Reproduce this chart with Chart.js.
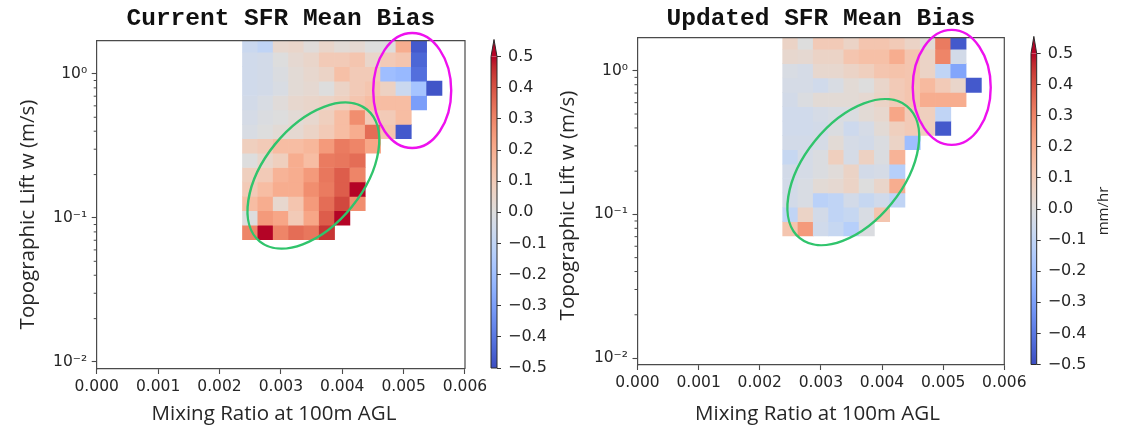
<!DOCTYPE html>
<html>
<head>
<meta charset="utf-8">
<script src="https://cdn.jsdelivr.net/npm/chart.js@4.4.1/dist/chart.umd.min.js"></script>
<style>
  html, body { margin: 0; padding: 0; background: #ffffff; }
  #wrap { position: relative; width: 1124px; height: 427px; overflow: hidden; }
  #wrap canvas { position: absolute; left: 0; top: 0; }
</style>
</head>
<body>
<div id="wrap">
  <canvas id="heatCurrent" width="1124" height="427"></canvas>
  <canvas id="barCurrent" width="1124" height="427"></canvas>
  <canvas id="heatUpdated" width="1124" height="427"></canvas>
  <canvas id="barUpdated" width="1124" height="427"></canvas>
</div>
<script>
// ---- bins and ticks ----
const mixingRatioCenters = [0.0025, 0.00275, 0.003, 0.00325, 0.0035, 0.00375, 0.004,
                            0.00425, 0.0045, 0.00475, 0.005, 0.00525, 0.0055];
const liftBinEdges = [0.0708, 0.0891, 0.1122, 0.1413, 0.1778, 0.2239, 0.2818, 0.3548,
                      0.4467, 0.5623, 0.7079, 0.8913, 1.1220, 1.4125, 1.7783];
const xTicks = [0, 0.001, 0.002, 0.003, 0.004, 0.005, 0.006];
const yMajorTicks = [0.01, 0.1, 1];
const yTickLabels = ['10\u207B\u00B2', '10\u207B\u00B9', '10\u2070'];
const yMinorMantissas = [2, 3, 4, 5, 6, 7, 8, 9];
const colorbarTicks = [-0.5, -0.4, -0.3, -0.2, -0.1, 0, 0.1, 0.2, 0.3, 0.4, 0.5];
const biasMin = -0.5, biasMax = 0.5;
const yMin = 0.00894, yMax = 1.70;

// ---- mean SFR bias (mm/hr); rows run from the lowest lift bin upward ----
const currentBias = [
  [ 0.30,  0.50,  0.30,  0.35,  0.33,  0.45,  null,  null,  null,  null,  null,  null,  null],
  [ 0.00,  0.25,  0.22,  0.10,  0.22,  0.38,  0.50,  null,  null,  null,  null,  null,  null],
  [ 0.15,  0.20,  0.04,  0.12,  0.25,  0.35,  0.42,  0.28,  null,  null,  null,  null,  null],
  [ 0.10,  0.15,  0.20,  0.20,  0.28,  0.32,  0.38,  0.50,  null,  null,  null,  null,  null],
  [ 0.08,  0.10,  0.18,  0.20,  0.25,  0.33,  0.38,  0.30,  null,  null,  null,  null,  null],
  [ 0.00,  0.05,  0.08,  0.20,  0.15,  0.32,  0.33,  0.35,  null,  null,  null,  null,  null],
  [ 0.08,  0.10,  0.15,  0.15,  0.17,  0.25,  0.32,  0.30,  0.22,  null,  null,  null,  null],
  [-0.02,  0.00,  0.02,  0.03,  0.06,  0.10,  0.15,  0.20,  0.35,  0.12, -0.47,  null,  null],
  [-0.03, -0.01,  0.00,  0.02,  0.04,  0.08,  0.15,  0.28,  0.10,  0.10,  0.15,  null,  null],
  [-0.04, -0.02,  0.01,  0.04,  0.05,  0.06,  0.08,  0.12,  0.15,  0.15,  0.15, -0.30,  null],
  [-0.05, -0.04, -0.02,  0.02,  0.03,  0.00,  0.06,  0.10,  0.12,  0.07, -0.07, -0.18, -0.48],
  [-0.05, -0.04, -0.01,  0.02,  0.04,  0.06,  0.14,  0.10,  0.10, -0.20, -0.22, -0.42,  null],
  [-0.05, -0.04,  0.00,  0.03,  0.05,  0.10,  0.10,  0.12,  0.05,  0.10,  0.12, -0.44,  null],
  [-0.07, -0.10,  0.04,  0.05,  0.01,  0.05,  0.02,  0.03,  0.00,  0.00,  0.20, -0.47,  null]
];
const updatedBias = [
  [ 0.12,  0.25, -0.05, -0.08, -0.13, -0.01,  null,  null,  null,  null,  null,  null,  null],
  [-0.10,  0.06, -0.04, -0.10, -0.08, -0.02,  0.12,  null,  null,  null,  null,  null,  null],
  [-0.04, -0.02, -0.12, -0.10, -0.04, -0.08, -0.05, -0.10,  null,  null,  null,  null,  null],
  [-0.04, -0.02,  0.02,  0.03,  0.06,  0.00,  0.05,  0.20,  null,  null,  null,  null,  null],
  [-0.04, -0.03, -0.01,  0.01,  0.06, -0.04, -0.03, -0.13,  null,  null,  null,  null,  null],
  [-0.08, -0.03, -0.01,  0.08, -0.03,  0.07, -0.01,  0.18,  null,  null,  null,  null,  null],
  [-0.04, -0.04, -0.03,  0.02, -0.03, -0.04, -0.01,  0.06, -0.20,  null,  null,  null,  null],
  [-0.05, -0.05, -0.04, -0.01, -0.06, -0.03,  0.02,  0.08,  0.10,  0.08, -0.47,  null,  null],
  [-0.05, -0.05, -0.03, -0.02, -0.01,  0.02,  0.04,  0.22,  0.10,  0.08, -0.10,  null,  null],
  [-0.04, -0.01,  0.02,  0.02,  0.02,  0.03,  0.06,  0.10,  0.12,  0.20,  0.20,  0.20,  null],
  [-0.03, -0.03, -0.05, -0.02,  0.02,  0.00,  0.05,  0.10,  0.12,  0.16,  0.10,  0.05, -0.47],
  [-0.02, -0.03,  0.04,  0.04,  0.06,  0.08,  0.12,  0.13,  0.12,  0.06, -0.10, -0.28,  null],
  [ 0.04,  0.03,  0.06,  0.06,  0.12,  0.14,  0.14,  0.20,  0.12,  0.06,  0.30, -0.04,  null],
  [ 0.06,  0.00,  0.10,  0.10,  0.06,  0.12,  0.12,  0.10,  0.06,  0.02,  0.32, -0.47,  null]
];

// ---- coolwarm colour map ----
const coolwarmStops = [
  [59,76,192],[68,90,204],[77,104,215],[87,117,225],[98,130,234],[108,142,241],
  [119,154,247],[130,165,251],[141,176,254],[152,185,255],[163,194,255],[174,201,253],
  [184,208,249],[194,213,244],[204,217,238],[213,219,230],[221,221,221],[229,216,209],
  [236,211,197],[241,204,185],[245,196,173],[247,187,160],[247,177,148],[247,166,135],
  [244,154,123],[241,141,111],[236,127,99],[229,112,88],[222,96,77],[213,80,66],
  [203,62,56],[192,40,47],[180,4,38]
];
function rgb(c) { return 'rgb(' + c.map(Math.round).join(',') + ')'; }
function coolwarm(v) {
  let t = (v - biasMin) / (biasMax - biasMin);
  t = Math.max(0, Math.min(1, t));
  const p = t * (coolwarmStops.length - 1);
  const i = Math.min(coolwarmStops.length - 2, Math.floor(p));
  const f = p - i;
  const a = coolwarmStops[i], b = coolwarmStops[i + 1];
  return rgb([a[0] + (b[0] - a[0]) * f, a[1] + (b[1] - a[1]) * f, a[2] + (b[2] - a[2]) * f]);
}

Chart.defaults.font.family = 'DejaVu Sans';
Chart.defaults.color = '#262626';

const AXIS_COLOR = '#4a4a4a';
const PAGE_W = 1124, PAGE_H = 427;
const Y_AXIS_W = 96.7;

// top/right spines, minor log ticks, highlight ellipses and axis captions
const panelDecor = {
  id: 'panelDecor',
  afterDatasetsDraw(chart, args, opts) {
    const ctx = chart.ctx, a = chart.chartArea;
    const xs = chart.scales.x, ys = chart.scales.y;
    ctx.save();
    ctx.strokeStyle = AXIS_COLOR;
    ctx.lineWidth = 1.2;
    ctx.beginPath();
    ctx.moveTo(a.left, a.top); ctx.lineTo(a.right, a.top); ctx.lineTo(a.right, a.bottom);
    ctx.stroke();
    // minor ticks of the log axis
    ctx.lineWidth = 1;
    ctx.beginPath();
    yMajorTicks.forEach(dec => {
      yMinorMantissas.forEach(m => {
        const v = dec * m;
        if (v <= yMin || v >= yMax) return;
        const py = ys.getPixelForValue(v);
        ctx.moveTo(a.left, py); ctx.lineTo(a.left - 3, py);
      });
    });
    ctx.stroke();
    // highlight ellipses
    opts.rings.forEach(r => {
      ctx.beginPath();
      ctx.strokeStyle = r.color;
      ctx.lineWidth = 2.4;
      ctx.ellipse(xs.getPixelForValue(r.x), ys.getPixelForValue(r.y), r.rx, r.ry,
                  r.angle * Math.PI / 180, 0, Math.PI * 2);
      ctx.stroke();
    });
    ctx.restore();
  },
  afterDraw(chart, args, opts) {
    const ctx = chart.ctx;
    ctx.save();
    ctx.fillStyle = '#262626';
    ctx.font = '20.5px "Open Sans"';
    ctx.textAlign = 'center';
    ctx.textBaseline = 'middle';
    ctx.fillText(opts.xCaption, opts.xCaptionPos[0], opts.xCaptionPos[1]);
    ctx.translate(opts.yCaptionPos[0], opts.yCaptionPos[1]);
    ctx.rotate(-Math.PI / 2);
    ctx.fillText(opts.yCaption, 0, 0);
    ctx.restore();
  }
};

function heatmap(canvasId, title, bias, area, titlePad, captions) {
  const cells = [];
  bias.forEach((row, r) => row.forEach((v, c) => {
    if (v === null) return;
    cells.push({ x: mixingRatioCenters[c], y: [liftBinEdges[r], liftBinEdges[r + 1]], v: v });
  }));
  return new Chart(document.getElementById(canvasId), {
    type: 'bar',
    data: {
      datasets: [{
        data: cells,
        backgroundColor: ctx => coolwarm(ctx.raw ? ctx.raw.v : 0),
        borderWidth: 0,
        barPercentage: 1,
        categoryPercentage: 1
      }]
    },
    options: {
      responsive: false,
      animation: false,
      events: [],
      layout: { padding: { left: area.left - Y_AXIS_W, right: PAGE_W - area.right, top: 0, bottom: 0 } },
      plugins: {
        legend: { display: false },
        tooltip: { enabled: false },
        title: {
          display: true,
          text: title,
          fullSize: false,
          color: '#111111',
          font: { family: '"Liberation Mono"', size: 24.5, weight: 'bold', lineHeight: 1.2 },
          padding: titlePad
        },
        panelDecor: Object.assign({
          rings: [
            { x: 0.00353, y: 0.197, rx: 85, ry: 49.5, angle: -51, color: '#30c46c' },
            { x: 0.00514, y: 0.766, rx: 39, ry: 57.5, angle: 0, color: '#ee11ee' }
          ]
        }, captions)
      },
      scales: {
        x: {
          type: 'linear',
          min: 0, max: 0.006,
          offset: false,
          grid: { offset: false, drawOnChartArea: false, tickLength: 5, tickColor: AXIS_COLOR, tickWidth: 1.1 },
          border: { color: AXIS_COLOR, width: 1.2 },
          ticks: { font: { size: 15.5 }, padding: 3.5, autoSkip: false, maxRotation: 0,
                   callback: v => Number(v).toFixed(3) },
          afterBuildTicks: s => { s.ticks = xTicks.map(value => ({ value })); },
          afterFit: s => { s.height = PAGE_H - area.bottom; }
        },
        y: {
          type: 'logarithmic',
          min: yMin, max: yMax,
          grid: { drawOnChartArea: false, tickLength: 5, tickColor: AXIS_COLOR, tickWidth: 1.1 },
          border: { color: AXIS_COLOR, width: 1.2 },
          ticks: { font: { size: 15.5 }, padding: 4.5, autoSkip: false,
                   callback: v => { const i = yMajorTicks.indexOf(v); return i >= 0 ? yTickLabels[i] : ''; } },
          afterBuildTicks: s => { s.ticks = yMajorTicks.map(value => ({ value })); },
          afterFit: s => { s.width = Y_AXIS_W; }
        }
      }
    },
    plugins: [panelDecor]
  });
}

// colour bar: one floating bar spanning the bias range, filled with the colour map
const colorbarDecor = {
  id: 'colorbarDecor',
  afterDatasetsDraw(chart, args, opts) {
    const ctx = chart.ctx, a = chart.chartArea;
    const tip = a.top - (a.bottom - a.top) * 0.055;
    const mid = (a.left + a.right) / 2;
    ctx.save();
    ctx.fillStyle = rgb(coolwarmStops[coolwarmStops.length - 1]);
    ctx.beginPath();
    ctx.moveTo(a.left, a.top); ctx.lineTo(mid, tip); ctx.lineTo(a.right, a.top); ctx.closePath();
    ctx.fill();
    ctx.strokeStyle = '#2a2a2a';
    ctx.lineWidth = 1;
    ctx.beginPath();
    ctx.moveTo(a.left, a.bottom); ctx.lineTo(a.left, a.top); ctx.lineTo(mid, tip);
    ctx.lineTo(a.right, a.top); ctx.lineTo(a.right, a.bottom); ctx.closePath();
    ctx.stroke();
    if (opts.unit) {
      ctx.fillStyle = '#262626';
      ctx.font = '15px "Open Sans"';
      ctx.textAlign = 'center';
      ctx.textBaseline = 'middle';
      ctx.translate(opts.unitPos[0], opts.unitPos[1]);
      ctx.rotate(-Math.PI / 2);
      ctx.fillText(opts.unit, 0, 0);
    }
    ctx.restore();
  }
};

function colorbar(canvasId, area, unit, unitPos) {
  return new Chart(document.getElementById(canvasId), {
    type: 'bar',
    data: {
      labels: ['bias'],
      datasets: [{
        data: [[biasMin, biasMax]],
        backgroundColor: ctx => {
          const a = ctx.chart.chartArea;
          if (!a) return 'rgba(0,0,0,0)';
          const g = ctx.chart.ctx.createLinearGradient(0, a.bottom, 0, a.top);
          coolwarmStops.forEach((c, i) => g.addColorStop(i / (coolwarmStops.length - 1), rgb(c)));
          return g;
        },
        borderWidth: 0,
        barPercentage: 1,
        categoryPercentage: 1
      }]
    },
    options: {
      responsive: false,
      animation: false,
      events: [],
      layout: { padding: { left: area.left, right: PAGE_W - area.right - 60, top: area.top, bottom: PAGE_H - area.bottom } },
      plugins: {
        legend: { display: false },
        tooltip: { enabled: false },
        colorbarDecor: { unit: unit, unitPos: unitPos }
      },
      scales: {
        x: { display: false },
        y: {
          position: 'right',
          min: biasMin, max: biasMax,
          grid: { drawOnChartArea: false, tickLength: 4, tickColor: '#333333', tickWidth: 1 },
          border: { display: false },
          ticks: { font: { size: 16 }, padding: 7, autoSkip: false,
                   callback: v => (v < -1e-9 ? '\u2212' : '') + Math.abs(v).toFixed(1) },
          afterBuildTicks: s => { s.ticks = colorbarTicks.map(value => ({ value })); },
          afterFit: s => { s.width = 60; }
        }
      }
    },
    plugins: [colorbarDecor]
  });
}

heatmap('heatCurrent', 'Current SFR Mean Bias', currentBias,
  { left: 96.7, right: 465, bottom: 369 },
  { top: 4.6, bottom: 6.7 },
  { xCaption: 'Mixing Ratio at 100m AGL', xCaptionPos: [274, 414.5],
    yCaption: 'Topographic Lift w (m/s)', yCaptionPos: [28, 214.5] });

heatmap('heatUpdated', 'Updated SFR Mean Bias', updatedBias,
  { left: 637.5, right: 1004.3, bottom: 365 },
  { top: 4.0, bottom: 4.3 },
  { xCaption: 'Mixing Ratio at 100m AGL', xCaptionPos: [817.5, 414.5],
    yCaption: 'Topographic Lift w (m/s)', yCaptionPos: [568, 205.5] });

colorbar('barCurrent', { left: 491, right: 497, top: 56.6, bottom: 368 }, '', [0, 0]);
colorbar('barUpdated', { left: 1031, right: 1036.7, top: 53.5, bottom: 364.5 }, 'mm/hr', [1104, 211]);
</script>
</body>
</html>
